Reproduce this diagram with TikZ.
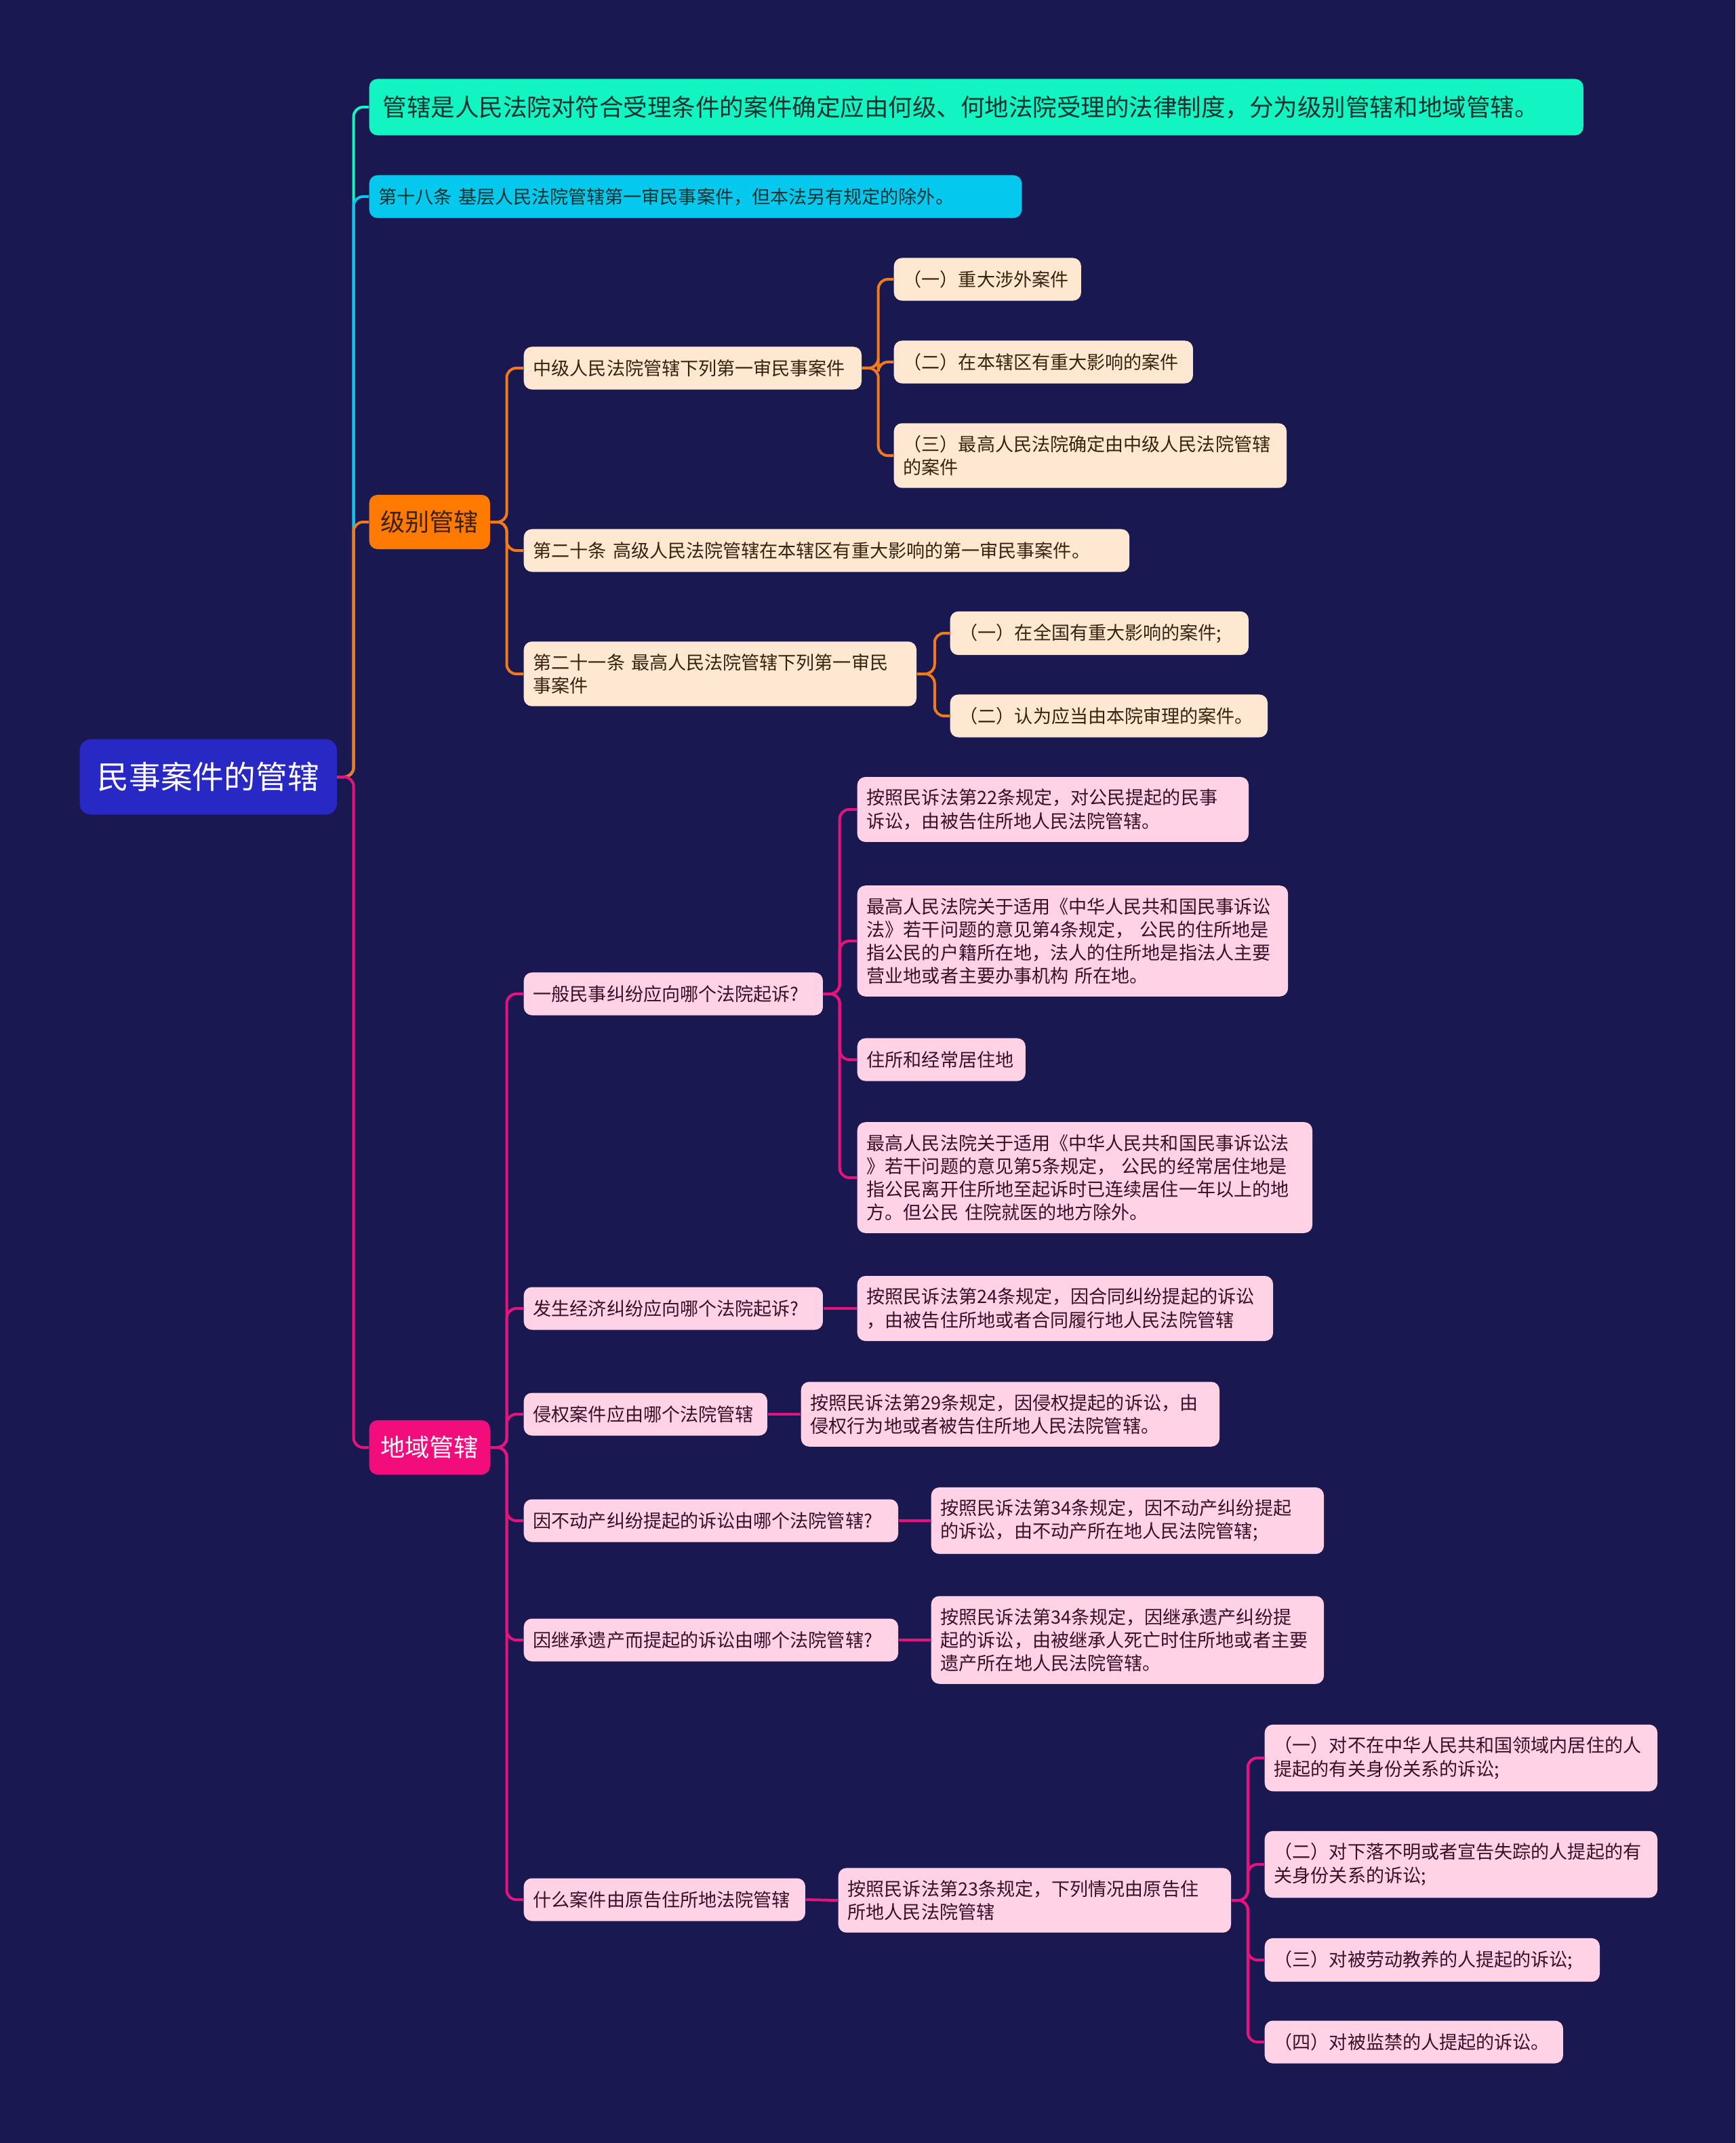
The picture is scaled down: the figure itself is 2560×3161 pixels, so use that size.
\documentclass[tikz,border=0pt]{standalone}
\usepackage{fontspec}
\setmainfont{Noto Sans CJK SC}
\usepackage{xcolor}
\definecolor{mmBg}{RGB}{26,24,80}
\definecolor{mmRoot}{RGB}{40,40,196}
\definecolor{mmMint}{RGB}{18,245,194}
\definecolor{mmCyan}{RGB}{5,200,238}
\definecolor{mmOrange}{RGB}{255,122,0}
\definecolor{mmOrLine}{RGB}{240,122,28}
\definecolor{mmPink}{RGB}{242,12,124}
\definecolor{mmPkLine}{RGB}{232,18,127}
\definecolor{mmPeach}{RGB}{255,232,210}
\definecolor{mmRose}{RGB}{255,210,230}
\definecolor{mmPeTx}{RGB}{58,34,16}
\definecolor{mmRoTx}{RGB}{58,16,40}
\definecolor{mmDkTx}{RGB}{16,50,48}
\usepackage{tikz}
\usetikzlibrary{positioning,calc}

\begin{document}
\begin{tikzpicture}[x=0.01cm,y=-0.01cm,
  b/.style={rounded corners=0.12cm,align=left,anchor=west,inner xsep=0.14cm,inner ysep=0.18cm,minimum height=0.63cm,font=\fontsize{7.7pt}{9.7pt}\selectfont},
  tw/.style={text width=#1cm},
  pe/.style={b,fill=mmPeach,text=mmPeTx},
  ro/.style={b,fill=mmRose,text=mmRoTx},
  main/.style={b,align=center,minimum width=1.78cm,minimum height=0.8cm,font=\fontsize{10.3pt}{12pt}\selectfont},
  lk/.style={line width=0.04cm,rounded corners=0.14cm}]
  \fill[mmBg] (0,0) rectangle (2560,3161);

  % root and first level
  \node[b,align=center,fill=mmRoot,text=white,minimum width=3.79cm,minimum height=1.11cm,rounded corners=0.16cm,font=\fontsize{13.3pt}{15pt}\selectfont] (root) at (117,1146) {民事案件的管辖};
  \node[b,fill=mmMint,text=mmDkTx,inner xsep=0.2cm,tw=17.5,minimum height=0.83cm,font=\fontsize{10.1pt}{12pt}\selectfont] (def) at (544,158) {管辖是人民法院对符合受理条件的案件确定应由何级、何地法院受理的法律制度，分为级别管辖和地域管辖。};
  \node[b,fill=mmCyan,text=mmDkTx,tw=9.34] (art18) at (544,290) {第十八条 基层人民法院管辖第一审民事案件，但本法另有规定的除外。};
  \node[main,fill=mmOrange,text=mmPeTx] (jb) at (544,770) {级别管辖};
  \node[main,fill=mmPink,text=white] (dy) at (544,2135) {地域管辖};

  % 级别管辖
  \node[pe,tw=4.70] (zj) at (772,543) {中级人民法院管辖下列第一审民事案件};
  \node[pe,tw=2.48] (zj1) at (1318,412) {（一）重大涉外案件};
  \node[pe,tw=4.13] (zj2) at (1318,534) {（二）在本辖区有重大影响的案件};
  \node[pe,tw=5.51] (zj3) at (1318,672) {（三）最高人民法院确定由中级人民法院管辖\\的案件};
  \node[pe,tw=8.65] (gj) at (772,812) {第二十条 高级人民法院管辖在本辖区有重大影响的第一审民事案件。};
  \node[pe,tw=5.51] (zg) at (772,994) {第二十一条 最高人民法院管辖下列第一审民\\事案件};
  \node[pe,tw=4.12] (zg1) at (1401,934) {（一）在全国有重大影响的案件;};
  \node[pe,tw=4.40] (zg2) at (1401,1056) {（二）认为应当由本院审理的案件。};

  % 地域管辖
  \node[ro,tw=4.13] (q1) at (772,1466) {一般民事纠纷应向哪个法院起诉?};
  \node[ro,tw=5.49] (q1a) at (1264,1194) {按照民诉法第22条规定，对公民提起的民事\\诉讼，由被告住所地人民法院管辖。};
  \node[ro,tw=6.07] (q1b) at (1264,1388) {最高人民法院关于适用《中华人民共和国民事诉讼\\法》若干问题的意见第4条规定， 公民的住所地是\\指公民的户籍所在地，法人的住所地是指法人主要\\营业地或者主要办事机构 所在地。};
  \node[ro,tw=2.20] (q1c) at (1264,1563) {住所和经常居住地};
  \node[ro,tw=6.43] (q1d) at (1264,1737) {最高人民法院关于适用《中华人民共和国民事诉讼法\\》若干问题的意见第5条规定， 公民的经常居住地是\\指公民离开住所地至起诉时已连续居住一年以上的地\\方。但公民 住院就医的地方除外。};
  \node[ro,tw=4.13] (q2) at (772,1930) {发生经济纠纷应向哪个法院起诉?};
  \node[ro,tw=5.85] (q2a) at (1264,1930) {按照民诉法第24条规定，因合同纠纷提起的诉讼\\，由被告住所地或者合同履行地人民法院管辖};
  \node[ro,tw=3.31] (q3) at (772,2086) {侵权案件应由哪个法院管辖};
  \node[ro,tw=5.89] (q3a) at (1181,2086) {按照民诉法第29条规定，因侵权提起的诉讼，由\\侵权行为地或者被告住所地人民法院管辖。};
  \node[ro,tw=5.24] (q4) at (772,2243) {因不动产纠纷提起的诉讼由哪个法院管辖?};
  \node[ro,tw=5.51] (q4a) at (1373,2243) {按照民诉法第34条规定，因不动产纠纷提起\\的诉讼，由不动产所在地人民法院管辖;};
  \node[ro,tw=5.24] (q5) at (772,2419) {因继承遗产而提起的诉讼由哪个法院管辖?};
  \node[ro,tw=5.51] (q5a) at (1373,2419) {按照民诉法第34条规定，因继承遗产纠纷提\\起的诉讼，由被继承人死亡时住所地或者主要\\遗产所在地人民法院管辖。};
  \node[ro,tw=3.87] (q6) at (772,2802) {什么案件由原告住所地法院管辖};
  \node[ro,tw=5.51] (q6a) at (1236,2803) {按照民诉法第23条规定，下列情况由原告住\\所地人民法院管辖};
  \node[ro,tw=5.51] (yg1) at (1865,2593) {（一）对不在中华人民共和国领域内居住的人\\提起的有关身份关系的诉讼;};
  \node[ro,tw=5.51] (yg2) at (1865,2750) {（二）对下落不明或者宣告失踪的人提起的有\\关身份关系的诉讼;};
  \node[ro,tw=4.66] (yg3) at (1865,2891) {（三）对被劳动教养的人提起的诉讼;};
  \node[ro,tw=4.12] (yg4) at (1865,3012) {（四）对被监禁的人提起的诉讼。};

  % connectors
  \draw[lk,mmMint] (root.east) -- ++(24,0) |- (def.west);
  \draw[lk,mmCyan] (root.east) -- ++(24,0) |- (art18.west);
  \draw[lk,mmOrLine] (root.east) -- ++(24,0) |- (jb.west);
  \draw[lk,mmPkLine] (root.east) -- ++(24,0) |- (dy.west);
  \foreach \c in {zj,gj,zg}
    \draw[lk,mmOrLine] (jb.east) -- ++(24,0) |- (\c.west);
  \foreach \c in {zj1,zj2,zj3}
    \draw[lk,mmOrLine] (zj.east) -- ++(24,0) |- (\c.west);
  \foreach \c in {zg1,zg2}
    \draw[lk,mmOrLine] (zg.east) -- ++(26,0) |- (\c.west);
  \foreach \c in {q1,q2,q3,q4,q5,q6}
    \draw[lk,mmPkLine] (dy.east) -- ++(24,0) |- (\c.west);
  \foreach \c in {q1a,q1b,q1c,q1d}
    \draw[lk,mmPkLine] (q1.east) -- ++(24,0) |- (\c.west);
  \draw[lk,mmPkLine] (q2.east) -- (q2a.west);
  \draw[lk,mmPkLine] (q3.east) -- (q3a.west);
  \draw[lk,mmPkLine] (q4.east) -- (q4a.west);
  \draw[lk,mmPkLine] (q5.east) -- (q5a.west);
  \draw[lk,mmPkLine] (q6.east) -- (q6a.west);
  \foreach \c in {yg1,yg2,yg3,yg4}
    \draw[lk,mmPkLine] (q6a.east) -- ++(24,0) |- (\c.west);
\end{tikzpicture}
\end{document}
